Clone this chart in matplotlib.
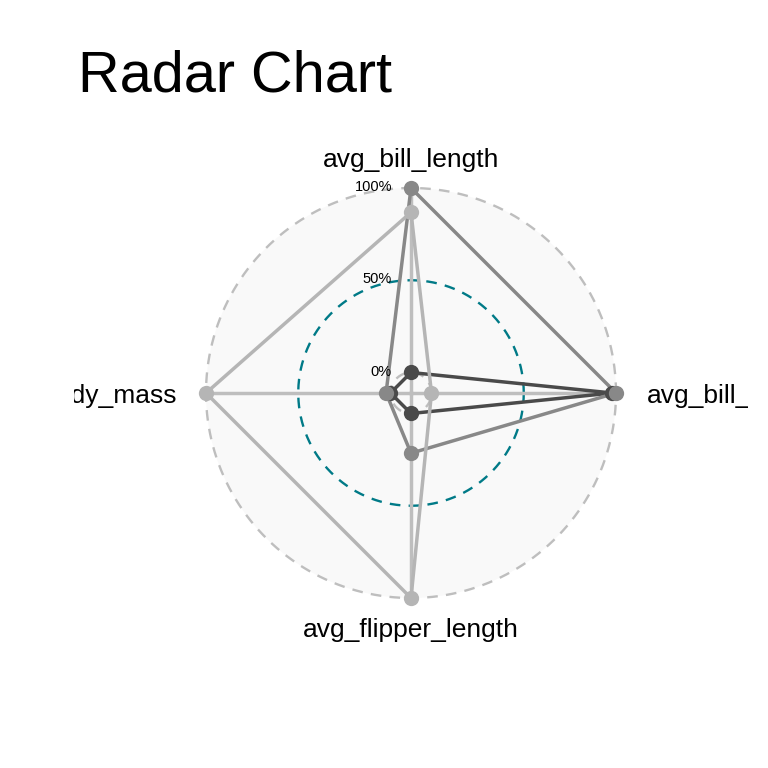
import numpy as np
import matplotlib
matplotlib.use("Agg")
import matplotlib.pyplot as plt
from matplotlib.patches import Circle

plt.rcParams['font.family'] = ['Liberation Sans', 'DejaVu Sans']

# ---- data ----
axis_labels = ["avg_bill_length", "avg_bill_depth", "avg_flipper_length", "avg_body_mass"]
groups = ["Adelie", "Chinstrap", "Gentoo"]
adelie = [0.0, 0.98, 0.0, 0.0]
chinstrap = [1.0, 1.0, 0.215, 0.024]
gentoo = [0.868, 0.0, 1.0, 1.0]
series = [adelie, chinstrap, gentoo]
colors = ["#4a4a4a", "#888888", "#b5b5b5"]
grid_values = [0.0, 0.5, 1.0]
grid_labels = ["0%", "50%", "100%"]

centre = 1 / 9  # radial offset of the centre (ggradar style)

W = 768
fig = plt.figure(figsize=(7.68, 7.68), dpi=100)
px = 184.5  # pixels per data unit
cx, cy = 411, 393
left_px, right_px = 74, 748
ax = fig.add_axes([left_px / W, 0, (right_px - left_px) / W, 1])
ax.set_xlim((left_px - cx) / px, (right_px - cx) / px)
ax.set_ylim((cy - W) / px, cy / px)
ax.axis("off")

n = len(axis_labels)
angles = np.pi / 2 - 2 * np.pi * np.arange(n) / n

# background disc
R = 1 + centre
ax.add_patch(Circle((0, 0), R, facecolor="#f9f9f9", edgecolor="none", zorder=0))

# grid circles
t = np.linspace(0, 2 * np.pi, 400)
grid_styles = [("#bebebe", 1.7), ("#007a87", 1.7), ("#bebebe", 1.7)]
for gv, (gc, glw) in zip(grid_values, grid_styles):
    r = gv + centre
    ax.plot(r * np.cos(t), r * np.sin(t), color=gc, lw=glw, ls=(0, (4.5, 3.5)), zorder=1)

# axis lines
for a in angles:
    ax.plot([0, R * np.cos(a)], [0, R * np.sin(a)], color="#bebebe", lw=2.5, zorder=1.5)

# grid labels
for gv, gl in zip(grid_values, grid_labels):
    ax.text(-19 / px, gv + centre + 0.005, gl, ha="right", va="center", fontsize=10.5, zorder=5)

# series lines
for vals, col in zip(series, colors):
    r = np.array(vals) + centre
    xs = r * np.cos(angles)
    ys = r * np.sin(angles)
    ax.plot(np.append(xs, xs[0]), np.append(ys, ys[0]), color=col, lw=2.5,
            solid_capstyle="round", solid_joinstyle="round", zorder=2)
# series points
for vals, col in zip(series, colors):
    r = np.array(vals) + centre
    ax.plot(r * np.cos(angles), r * np.sin(angles), "o", color=col, ms=11,
            markeredgewidth=0, zorder=3)

# axis labels (clipped to panel like the reference)
lab_r = [(0, 233 / px, "center"), (236 / px, -3 / px, "left"),
         (0, -237 / px, "center"), (-234 / px, -3 / px, "right")]
for (lx, ly, ha), lab in zip(lab_r, axis_labels):
    ax.text(lx, ly, lab, ha=ha, va="center", fontsize=19, clip_on=True, zorder=5)

fig.text(78 / W, 1 - 92 / W, "Radar Chart", fontsize=41.5, ha="left", va="baseline")

fig.savefig("out.png", dpi=100, facecolor="white")
